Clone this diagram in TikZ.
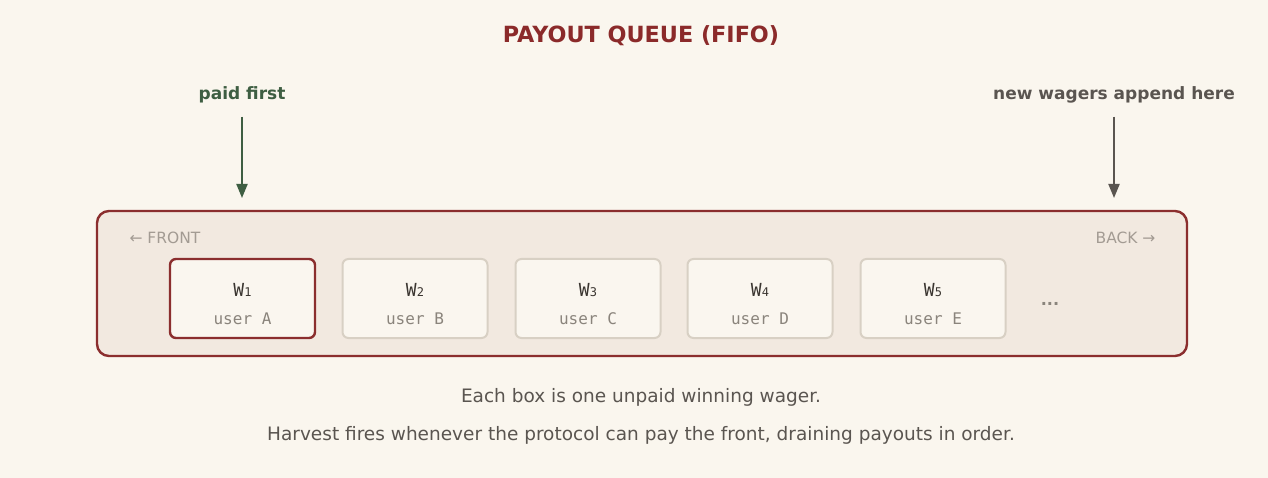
\documentclass[tikz,border=0pt]{standalone}
\usepackage{fontspec}
\setmainfont{DejaVu Sans}
\newfontfamily\monofont{DejaVu Sans Mono}
\usetikzlibrary{arrows.meta}
\definecolor{bgc}{HTML}{FAF6EE}
\definecolor{qfill}{HTML}{F2E9E0}
\definecolor{qred}{HTML}{8B2E2E}
\definecolor{titlered}{HTML}{8B2A2A}
\definecolor{pgreen}{HTML}{3E5E42}
\definecolor{dgray}{HTML}{5A5550}
\definecolor{lgray}{HTML}{A39B93}
\definecolor{bfill}{HTML}{FAF6EF}
\definecolor{bline}{HTML}{D8D0C4}
\definecolor{wtext}{HTML}{3A3530}
\definecolor{utext}{HTML}{8A847C}
\tikzset{
  wbox/.style={draw=bline, line width=2pt, fill=bfill, rounded corners=6pt, minimum width=145pt, minimum height=79pt, inner sep=0pt},
  firstbox/.style={wbox, draw=qred, line width=2.4pt},
  wlabel/.style={font=\monofont\fontsize{18}{20}\selectfont, text=wtext},
  ulabel/.style={font=\monofont\fontsize{16}{18}\selectfont, text=utext},
  endlabel/.style={font=\fontsize{15.5}{18}\selectfont, text=lgray},
  pointer/.style={line width=2pt, -{Triangle[length=14pt,width=11pt]}},
  note/.style={font=\fontsize{18.5}{22}\selectfont, text=dgray}
}
\begin{document}
\begin{tikzpicture}[x=1pt,y=-1pt]
\useasboundingbox[fill=bgc] (0,0) rectangle (1268,478);
\node[font=\bfseries\fontsize{22.3}{26}\selectfont, text=titlered] (title) at (641,36) {PAYOUT QUEUE (FIFO)};
\node[draw=qred, line width=2.4pt, fill=qfill, rounded corners=12pt, minimum width=1090pt, minimum height=145pt, inner sep=0pt] (queue) at (642,283.5) {};
\node[endlabel, anchor=west] (front) at (126,238) {← FRONT};
\node[endlabel, anchor=east] (back) at (1159,238) {BACK →};
\foreach \i/\x/\u in {1/242.5/A,2/415/B,3/588/C,4/760/D,5/933/E}{
  \ifnum\i=1
    \node[firstbox] (b\i) at (\x,298.5) {};
  \else
    \node[wbox] (b\i) at (\x,298.5) {};
  \fi
  \node[wlabel] (w\i) at (\x,290) {W\fontsize{12}{14}\selectfont\i};
  \node[ulabel] (u\i) at (\x,319) {user \u};
}
\node[font=\bfseries\fontsize{16}{16}\selectfont, text=utext] (dots) at (1050,304) {...};
\node[font=\bfseries\fontsize{17}{22}\selectfont, text=pgreen] (paid) at (242,95) {paid first};
\node[font=\bfseries\fontsize{17}{22}\selectfont, text=dgray] (newl) at (1114,95) {new wagers append here};
\coordinate (pa) at (242,198);
\coordinate (na) at (1114,198);
\draw[pointer, draw=pgreen, fill=pgreen] (242,117) -- (pa);
\draw[pointer, draw=dgray, fill=dgray] (1114,117) -- (na);
\node[note] (n1) at (641,397) {Each box is one unpaid winning wager.};
\node[note] (n2) at (641,435) {Harvest fires whenever the protocol can pay the front, draining payouts in order.};
\end{tikzpicture}
\end{document}
